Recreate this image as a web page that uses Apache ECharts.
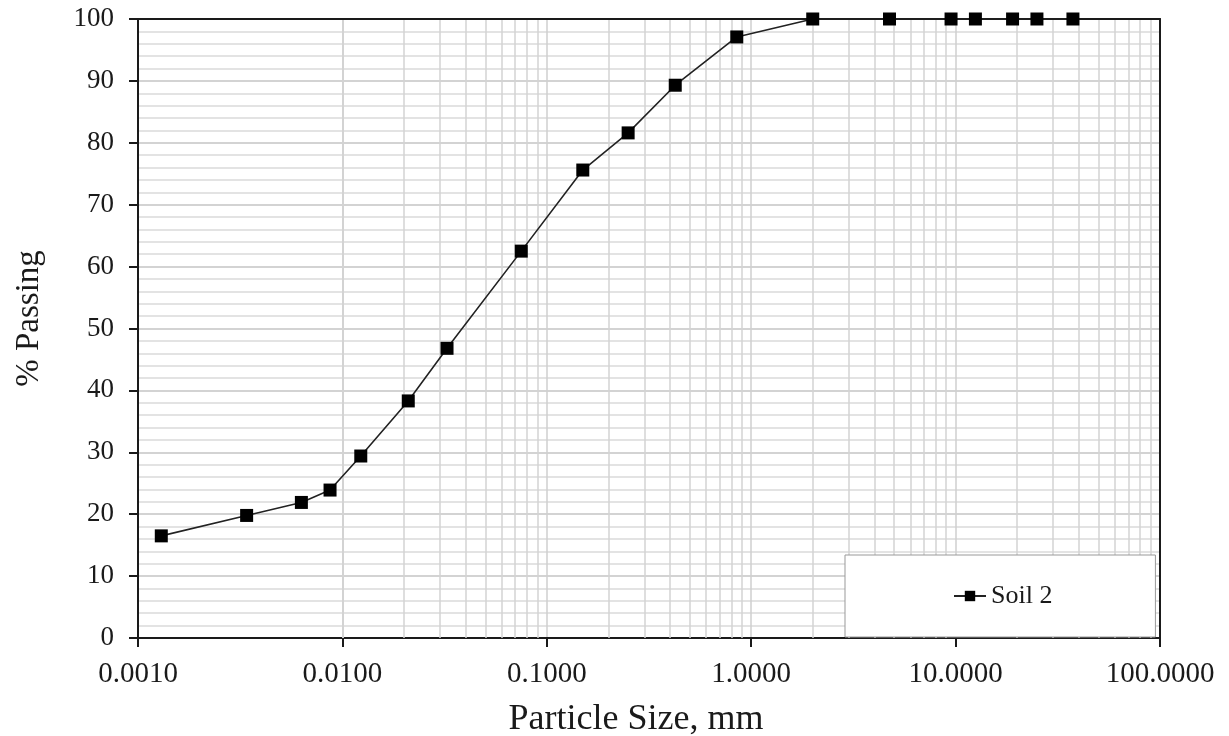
<!DOCTYPE html>
<html>
<head>
<meta charset="utf-8">
<script src="https://cdn.jsdelivr.net/npm/echarts@6/dist/echarts.min.js"></script>
<style>
  html, body { margin: 0; padding: 0; background: #fff; }
  #main { width: 1229px; height: 736px; }
</style>
</head>
<body>
<div id="main"></div>
<script>
// particle sizes (mm) and % passing
const sizes   = [37.5, 25, 19, 12.5, 9.5, 4.75, 2.0, 0.85, 0.425, 0.25, 0.15, 0.075, 0.0325, 0.021, 0.0123, 0.0087, 0.0063, 0.0034, 0.0013];
const passing = [100, 100, 100, 100, 100, 100, 100, 97.1, 89.3, 81.6, 75.6, 62.5, 46.8, 38.3, 29.4, 23.9, 21.9, 19.8, 16.5];

// log axis decades and the 2..9 sub-lines in each
const decades = [0.001, 0.01, 0.1, 1, 10];
const subSteps = [2, 3, 4, 5, 6, 7, 8, 9];
const minorX = [];
decades.forEach(d => subSteps.forEach(s => minorX.push(+(d * s).toPrecision(3))));

const serif = 'Liberation Serif, Times New Roman, serif';
const ink = '#1a1a1a';

const chart = echarts.init(document.getElementById('main'));
const option = {
  animation: false,
  backgroundColor: '#fff',
  grid: { left: 138, top: 19, width: 1022, height: 619, outerBoundsMode: 'none', containLabel: false },
  legend: {
    data: ['Soil 2'],
    left: 845, top: 555,
    zlevel: 2,
    padding: [28, 103, 28, 108],
    backgroundColor: '#fff',
    borderColor: '#999',
    borderWidth: 1,
    itemWidth: 32, itemHeight: 13,
    itemGap: 0,
    textStyle: { fontFamily: serif, fontSize: 26, color: ink }
  },
  xAxis: [
    {
      type: 'log', logBase: 10, min: 0.001, max: 100,
      name: 'Particle Size, mm', nameLocation: 'middle', nameGap: 64,
      nameTextStyle: { fontFamily: serif, fontSize: 36, color: ink, padding: [0, 26, 0, 0] },
      axisLine: { lineStyle: { color: ink, width: 2 } },
      axisTick: { show: true, length: 9, lineStyle: { color: ink, width: 2 } },
      axisLabel: {
        fontFamily: serif, fontSize: 29, color: ink, margin: 22,
        formatter: v => Number(v).toFixed(4)
      },
      splitLine: { show: true, lineStyle: { color: '#cfcfcf', width: 1.5 } }
    },
    {
      type: 'log', logBase: 10, min: 0.001, max: 100, position: 'top', z: 5,
      axisLine: { show: true, onZero: false, lineStyle: { color: ink, width: 2 } },
      axisTick: { show: false }, axisLabel: { show: false }, splitLine: { show: false }
    }
  ],
  yAxis: [
    {
      type: 'value', min: 0, max: 100, interval: 10,
      name: '% Passing', nameLocation: 'middle', nameGap: 92,
      nameTextStyle: { fontFamily: serif, fontSize: 33, color: ink, padding: [0, 0, 0, 20] },
      axisLine: { show: true, lineStyle: { color: ink, width: 2 } },
      axisTick: { show: true, length: 9, lineStyle: { color: ink, width: 2 } },
      axisLabel: { fontFamily: serif, fontSize: 27, color: ink, margin: 24 },
      splitLine: { show: true, lineStyle: { color: '#c4c4c4', width: 1.5 } },
      minorTick: { show: false, splitNumber: 5 },
      minorSplitLine: { show: true, lineStyle: { color: '#dadada', width: 1.5 } }
    },
    {
      type: 'value', min: 0, max: 100, position: 'right', z: 5,
      axisLine: { show: true, onZero: false, lineStyle: { color: ink, width: 2 } },
      axisTick: { show: false }, axisLabel: { show: false }, splitLine: { show: false }
    }
  ],
  series: [
    {
      name: 'grid-minor',
      type: 'line',
      data: [],
      z: 1,
      silent: true,
      markLine: {
        silent: true,
        symbol: 'none',
        label: { show: false },
        lineStyle: { type: 'solid', color: '#d3d3d3', width: 1.5 },
        data: minorX.map(v => ({ xAxis: v }))
      }
    },
    {
      name: 'Soil 2',
      type: 'line',
      zlevel: 1,
      data: sizes.map((s, i) => [s, passing[i]]),
      symbol: 'rect',
      symbolSize: 13,
      itemStyle: { color: '#000' },
      lineStyle: { color: '#222', width: 1.6 }
    }
  ]
};
chart.setOption(option);
</script>
</body>
</html>
